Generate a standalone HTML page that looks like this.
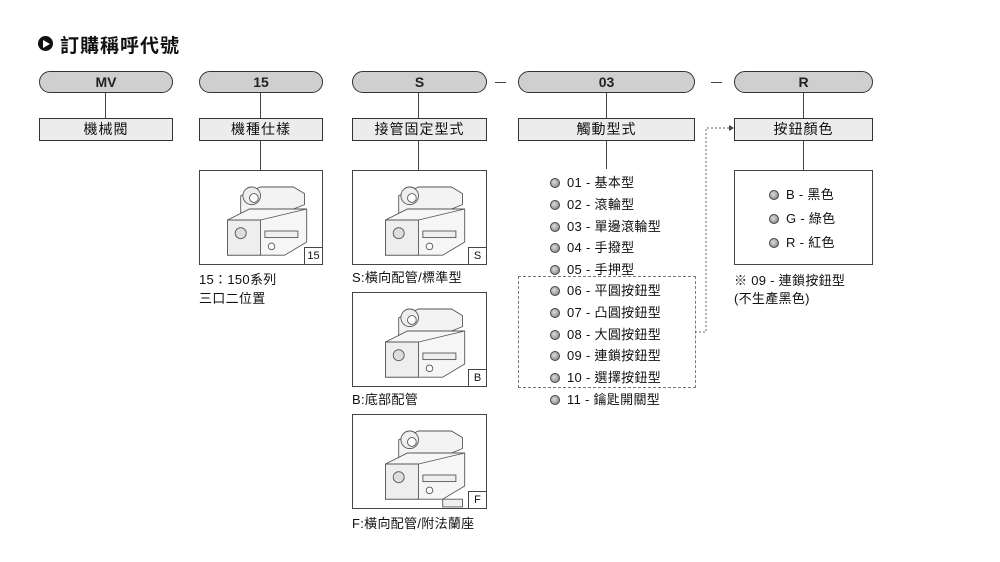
<!DOCTYPE html>
<html><head><meta charset="utf-8"><style>
body{margin:0;background:#fff;}
#c{position:relative;width:1000px;height:562px;overflow:hidden;font-family:"Liberation Sans","Noto Sans CJK TC",sans-serif;color:#111;}
.a{position:absolute;}
.pill{position:absolute;height:20px;border:1px solid #333;border-radius:11px;background:#cfcfcf;text-align:center;font-weight:bold;font-size:14px;line-height:20px;color:#222;}
.box{position:absolute;height:21px;border:1px solid #333;background:#ececec;text-align:center;font-size:14px;line-height:21px;letter-spacing:1px;}
.vl{position:absolute;width:1px;background:#444;}
.img{position:absolute;border:1px solid #444;background:#fff;}
.tag{position:absolute;right:0;bottom:0;width:17px;height:16px;border-left:1px solid #444;border-top:1px solid #444;font-size:11px;line-height:16px;text-align:center;}
.t{position:absolute;font-size:13px;white-space:nowrap;letter-spacing:0.3px;}
.b{display:inline-block;width:8px;height:8px;border-radius:50%;background:radial-gradient(circle at 40% 40%,#ddd,#777);border:1px solid #444;margin-right:7px;vertical-align:-1px;}
</style></head><body><div id="c">
<svg width="0" height="0" style="position:absolute"><defs>
<g id="v" fill="#fff" stroke="#555" stroke-width="0.8">
<path d="M22 18 l18-8 l30 0 l10 6 l0 10 l-20 8 l-38 0z" fill="#f3f3f3"/>
<circle cx="32" cy="18" r="8" fill="#eee"/><circle cx="34" cy="20" r="4"/>
<path d="M10 40 l20-10 l52 0 l0 30 l-20 12 l-52 0z" fill="#f6f6f6"/>
<path d="M10 40 l30 0 l0 32 l-30 0z" fill="#eee"/>
<path d="M40 40 l42-10" fill="none"/>
<circle cx="22" cy="52" r="5" fill="#ddd"/>
<rect x="44" y="50" width="30" height="6" fill="#eee"/>
<circle cx="50" cy="64" r="3"/>
</g></defs></svg>

<div class="a" style="left:38px;top:36px;width:15px;height:15px;border-radius:50%;background:#111;"></div>
<div class="a" style="left:43px;top:39.5px;width:0;height:0;border-left:7px solid #fff;border-top:4px solid transparent;border-bottom:4px solid transparent;"></div>
<div class="t" style="left:60px;top:31px;font-size:19px;font-weight:bold;letter-spacing:1px;">訂購稱呼代號</div>

<div class="pill" style="left:39px;top:71px;width:132px;">MV</div>
<div class="pill" style="left:199px;top:71px;width:122px;">15</div>
<div class="pill" style="left:352px;top:71px;width:133px;">S</div>
<div class="pill" style="left:518px;top:71px;width:175px;">03</div>
<div class="pill" style="left:734px;top:71px;width:137px;">R</div>
<div class="a" style="left:495px;top:82px;width:11px;height:1px;background:#444"></div>
<div class="a" style="left:711px;top:82px;width:11px;height:1px;background:#444"></div>

<div class="vl" style="left:105px;top:93px;height:25px"></div>
<div class="vl" style="left:260px;top:93px;height:25px"></div>
<div class="vl" style="left:418px;top:93px;height:25px"></div>
<div class="vl" style="left:606px;top:93px;height:25px"></div>
<div class="vl" style="left:803px;top:93px;height:25px"></div>

<div class="box" style="left:39px;top:118px;width:132px;">機械閥</div>
<div class="box" style="left:199px;top:118px;width:122px;">機種仕樣</div>
<div class="box" style="left:352px;top:118px;width:133px;">接管固定型式</div>
<div class="box" style="left:518px;top:118px;width:175px;">觸動型式</div>
<div class="box" style="left:734px;top:118px;width:137px;">按鈕顏色</div>

<div class="vl" style="left:260px;top:141px;height:29px"></div>
<div class="vl" style="left:418px;top:141px;height:29px"></div>
<div class="vl" style="left:606px;top:141px;height:28px"></div>
<div class="vl" style="left:803px;top:141px;height:29px"></div>

<div class="img" style="left:199px;top:170px;width:122px;height:93px;"><svg class="a" style="left:16px;top:5px" width="100" height="88" viewBox="0 0 90 80"><use href="#v"/></svg><div class="tag">15</div></div>
<div class="img" style="left:352px;top:170px;width:133px;height:93px;"><svg class="a" style="left:21px;top:5px" width="100" height="88" viewBox="0 0 90 80"><use href="#v"/></svg><div class="tag">S</div></div>
<div class="img" style="left:352px;top:292px;width:133px;height:93px;"><svg class="a" style="left:21px;top:5px" width="100" height="88" viewBox="0 0 90 80"><use href="#v"/></svg><div class="tag">B</div></div>
<div class="img" style="left:352px;top:414px;width:133px;height:93px;"><svg class="a" style="left:21px;top:5px" width="100" height="88" viewBox="0 0 90 80"><use href="#v"/><path d="M62 72 l18 0 l0 7 l-18 0z" fill="#eee" stroke="#555" stroke-width="0.8"/></svg><div class="tag">F</div></div>

<div class="t" style="left:199px;top:269px;">15：150系列</div>
<div class="t" style="left:199px;top:288px;">三口二位置</div>
<div class="t" style="left:352px;top:267px;">S:橫向配管/標準型</div>
<div class="t" style="left:352px;top:389px;">B:底部配管</div>
<div class="t" style="left:352px;top:513px;">F:橫向配管/附法蘭座</div>

<div class="t" style="left:550px;top:172px;"><span class="b"></span>01 - 基本型</div>
<div class="t" style="left:550px;top:194px;"><span class="b"></span>02 - 滾輪型</div>
<div class="t" style="left:550px;top:216px;"><span class="b"></span>03 - 單邊滾輪型</div>
<div class="t" style="left:550px;top:237px;"><span class="b"></span>04 - 手撥型</div>
<div class="t" style="left:550px;top:259px;"><span class="b"></span>05 - 手押型</div>
<div class="t" style="left:550px;top:280px;"><span class="b"></span>06 - 平圓按鈕型</div>
<div class="t" style="left:550px;top:302px;"><span class="b"></span>07 - 凸圓按鈕型</div>
<div class="t" style="left:550px;top:324px;"><span class="b"></span>08 - 大圓按鈕型</div>
<div class="t" style="left:550px;top:345px;"><span class="b"></span>09 - 連鎖按鈕型</div>
<div class="t" style="left:550px;top:367px;"><span class="b"></span>10 - 選擇按鈕型</div>
<div class="t" style="left:550px;top:389px;"><span class="b"></span>11 - 鑰匙開關型</div>

<div class="a" style="left:518px;top:276px;width:176px;height:110px;border:1px dashed #777;"></div>
<svg class="a" style="left:690px;top:120px" width="50" height="220">
<path d="M5 212 H16 V8 H40" fill="none" stroke="#666" stroke-dasharray="2,2"/>
<path d="M39 5 L44 8 L39 11z" fill="#444"/>
</svg>

<div class="img" style="left:734px;top:170px;width:137px;height:93px;background:#fff;"></div>
<div class="t" style="left:769px;top:184px;"><span class="b"></span>B - 黑色</div>
<div class="t" style="left:769px;top:208px;"><span class="b"></span>G - 綠色</div>
<div class="t" style="left:769px;top:232px;"><span class="b"></span>R - 紅色</div>
<div class="t" style="left:734px;top:270px;">※ 09 - 連鎖按鈕型</div>
<div class="t" style="left:734px;top:288px;">(不生產黑色)</div>
</div></body></html>
